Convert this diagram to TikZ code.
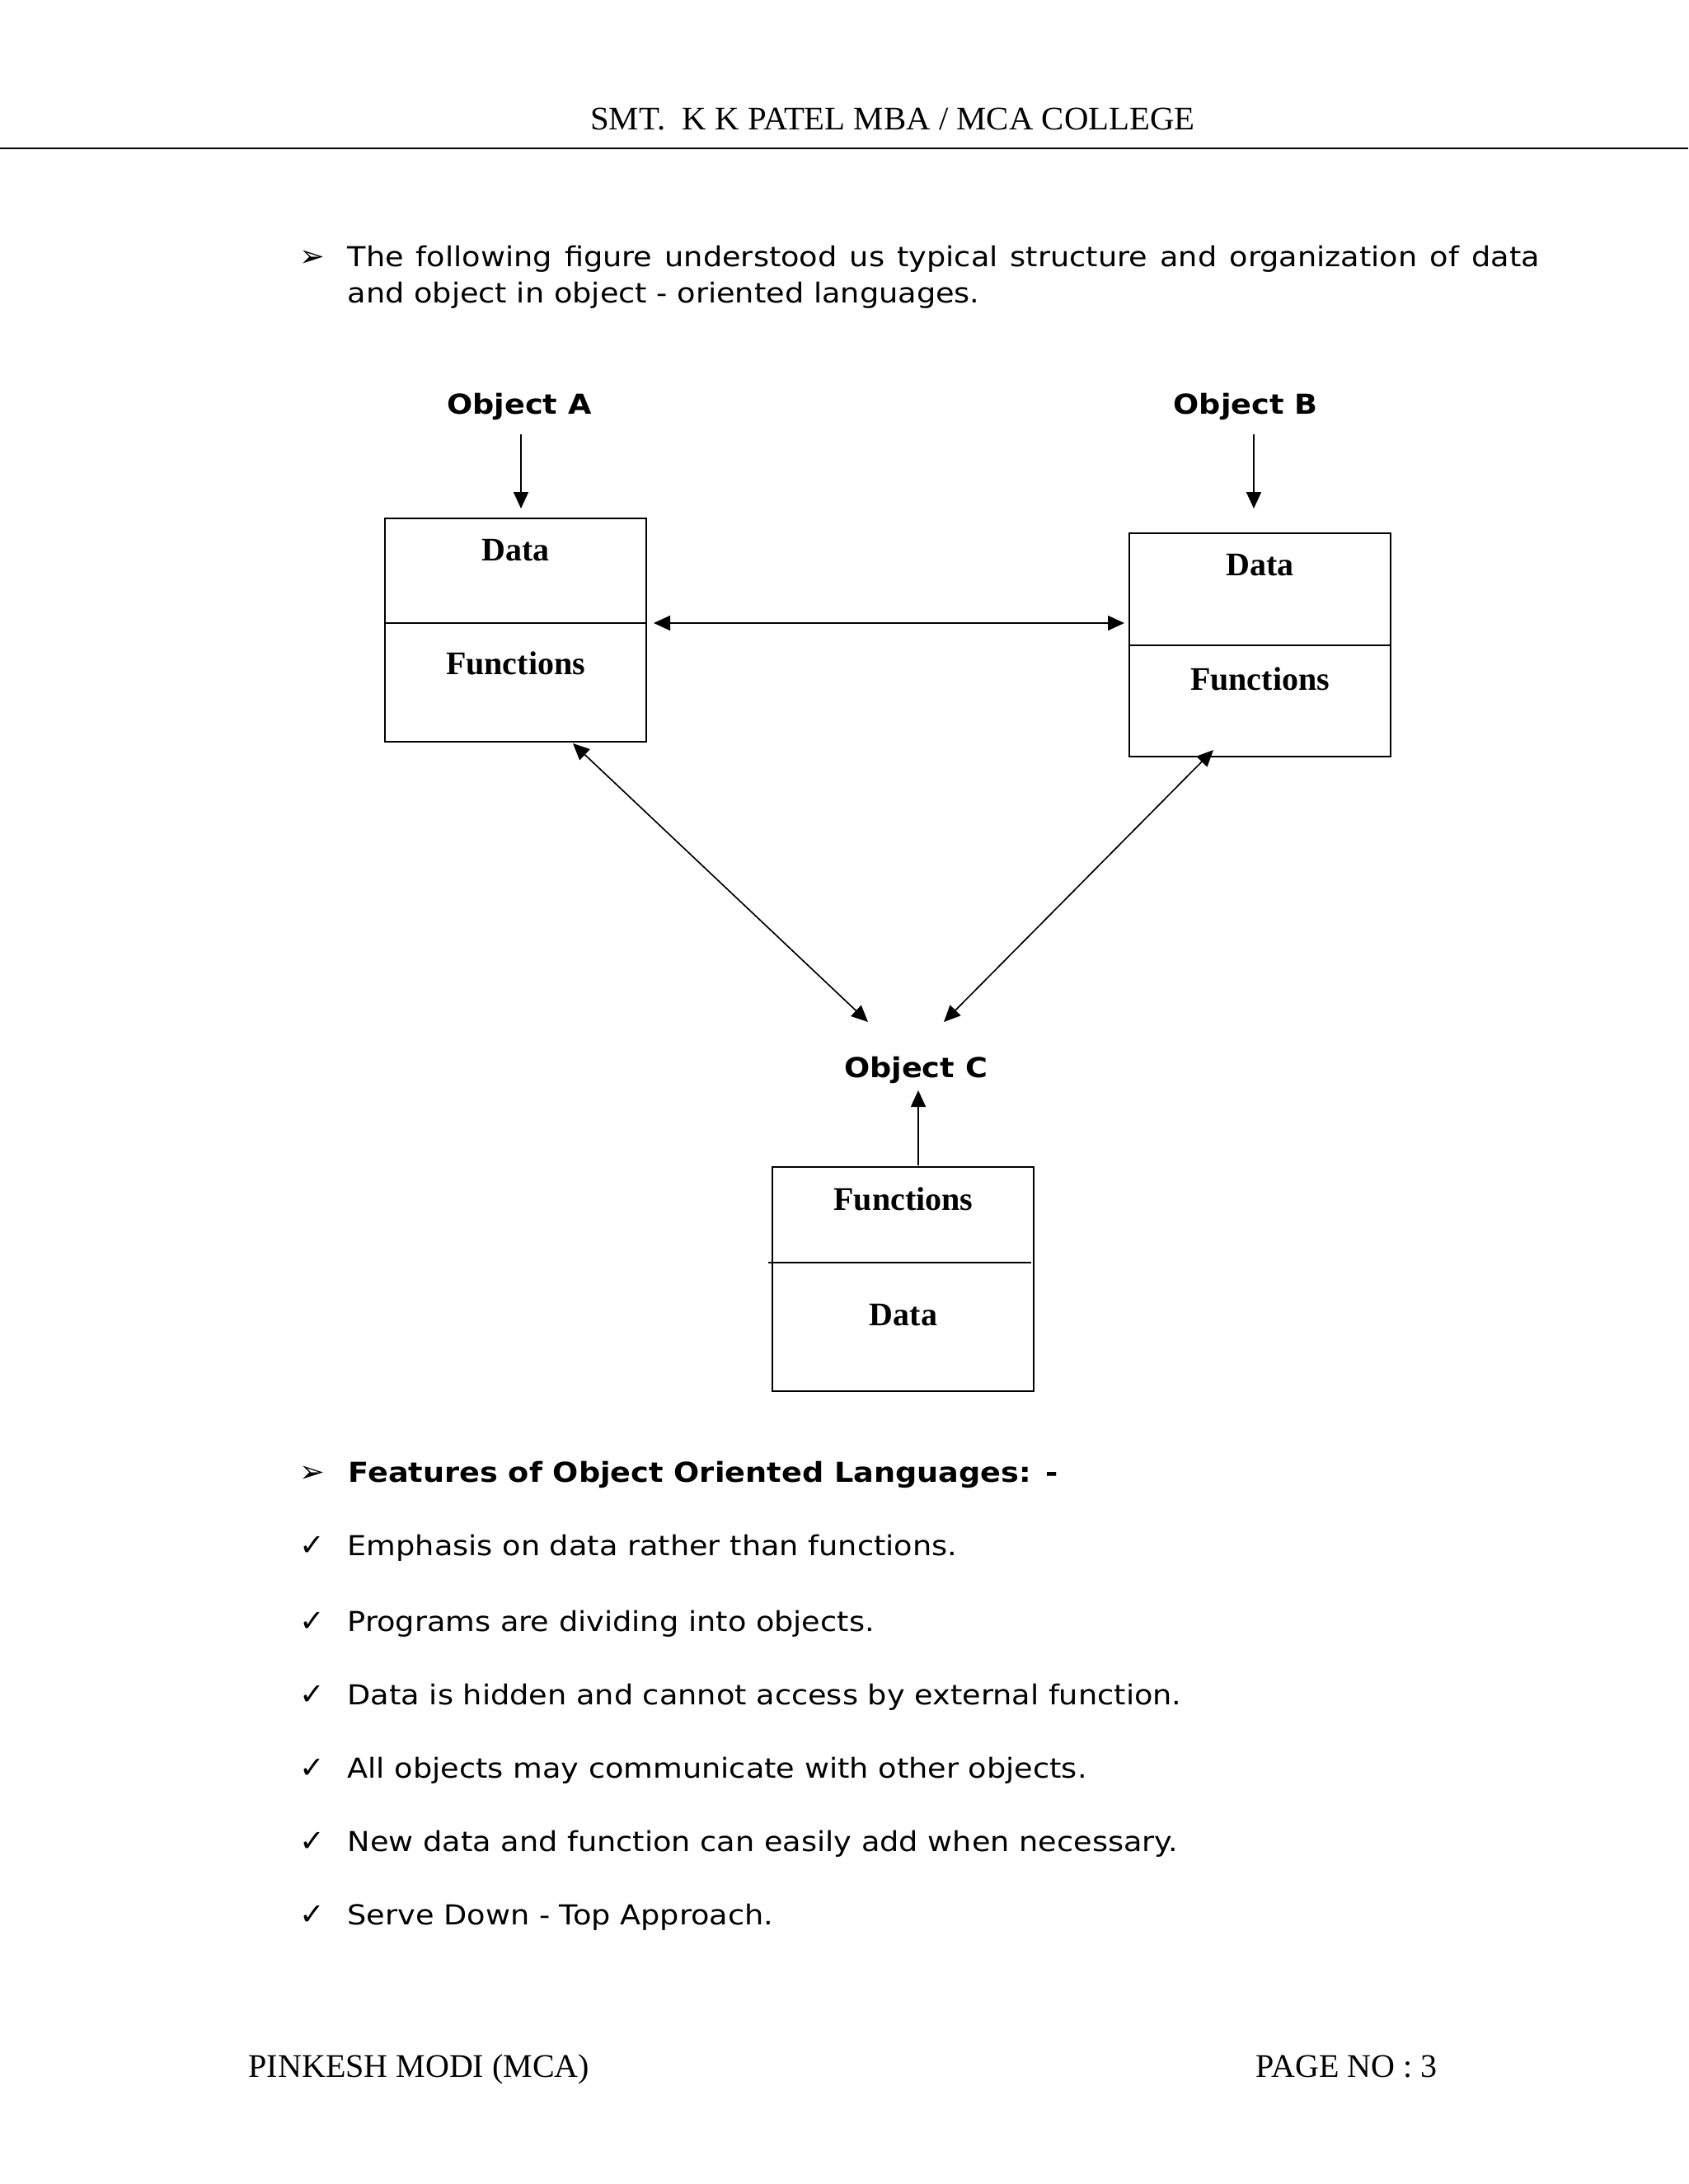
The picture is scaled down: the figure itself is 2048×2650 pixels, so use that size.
\documentclass[tikz,border=0pt]{standalone}
\usepackage{fontspec}
\setmainfont{Liberation Serif}
\newfontfamily\vfont[FakeStretch=1.1]{DejaVu Sans}
\newfontfamily\symfont{DejaVu Sans}
\newfontfamily\hdrfont[FakeStretch=1.02]{Liberation Serif}
\usetikzlibrary{arrows.meta}
\def\u{0.29995pt}
\newlength\pxu
\setlength\pxu{0.29995pt}
\begin{document}
\begin{tikzpicture}[x=0.29995pt,y=-0.29995pt,
  box/.style={draw,line width=0.6pt,minimum width=317*\u,inner sep=0},
  conn/.style={line width=0.5pt,-{Triangle[length=6pt,width=5.4pt]}},
  dconn/.style={line width=0.5pt,{Triangle[length=6pt,width=5.4pt]}-{Triangle[length=6pt,width=5.4pt]}},
  boxtxt/.style={font=\bfseries\fontsize{12}{14}\selectfont,anchor=base,inner sep=0},
  objlbl/.style={font=\vfont\bfseries\fontsize{10}{12}\selectfont,anchor=base,inner sep=0},
  body/.style={font=\vfont\fontsize{10}{12}\selectfont,anchor=base west,inner sep=0},
  bodyb/.style={font=\vfont\bfseries\fontsize{10}{12}\selectfont,anchor=base west,inner sep=0},
  sym/.style={font=\symfont\fontsize{11}{13}\selectfont,anchor=base west,inner sep=0},
  serif/.style={font=\fontsize{12}{14}\selectfont,anchor=base,inner sep=0},
  ]
\useasboundingbox (0,0) rectangle (2048,2650);
\fill[white] (0,0) rectangle (2048,2650);
% header
\node[serif,font=\hdrfont\fontsize{12}{14}\selectfont] (hdr) at (1083,157) {SMT.\ \ K K PATEL MBA / MCA COLLEGE};
\coordinate (hl) at (0,180);
\coordinate (hr) at (2048,180);
\draw[line width=0.8pt] (hl) -- (hr);
% first bullet
\node[sym] (b1) at (363,323) {➢};
\node[body] (t1) at (421,323) {\makebox[1446\pxu][s]{The following figure understood us typical structure and organization of data}};
\node[body] (t2) at (421,367) {and object in object - oriented languages.};
% objects labels
\node[objlbl] (objA) at (630,502) {Object A};
\node[objlbl] (objB) at (1511,502) {Object B};
\node[objlbl] (objC) at (1111,1307) {Object C};
% boxes
\node[box,minimum height=271*\u] (boxA) at (625.5,764.5) {};
\node[box,minimum height=271*\u] (boxB) at (1528.5,782.5) {};
\node[box,minimum height=272*\u] (boxC) at (1095.5,1552) {};
\coordinate (dAl) at (467,756); \coordinate (dAr) at (784,756);
\coordinate (dBl) at (1370,783); \coordinate (dBr) at (1687,783);
\coordinate (dCl) at (932,1532); \coordinate (dCr) at (1251,1532);
\draw[line width=0.6pt] (dAl) -- (dAr);
\draw[line width=0.6pt] (dBl) -- (dBr);
\draw[line width=0.6pt] (dCl) -- (dCr);
\node[boxtxt] (dataA) at (625.5,680) {Data};
\node[boxtxt] (funA) at (625.5,818) {Functions};
\node[boxtxt] (dataB) at (1528.5,698) {Data};
\node[boxtxt] (funB) at (1528.5,837) {Functions};
\node[boxtxt] (funC) at (1096,1468) {Functions};
\node[boxtxt] (dataC) at (1096,1608) {Data};
% connectors
\coordinate (aA1) at (632,527); \coordinate (aA2) at (632,617);
\coordinate (aB1) at (1521,527); \coordinate (aB2) at (1521,617);
\draw[conn] (aA1) -- (aA2);
\draw[conn] (aB1) -- (aB2);
\coordinate (hA) at (793,756); \coordinate (hB) at (1364,756);
\draw[dconn] (hA) -- (hB);
\coordinate (gA) at (695,902); \coordinate (gAc) at (1053,1240);
\coordinate (gB) at (1472,910); \coordinate (gBc) at (1145,1240);
\draw[dconn] (gA) -- (gAc);
\draw[dconn] (gB) -- (gBc);
\coordinate (uC1) at (1114,1414); \coordinate (uC2) at (1114,1323);
\draw[conn] (uC1) -- (uC2);
% features
\node[sym] (b2) at (363,1798) {➢};
\node[bodyb] (f0) at (422,1798) {Features of Object Oriented Languages: -};
\foreach \y/\t [count=\i] in {1887/{Emphasis on data rather than functions.},
  1979/{Programs are dividing into objects.},
  2068/{Data is hidden and cannot access by external function.},
  2157/{All objects may communicate with other objects.},
  2246/{New data and function can easily add when necessary.},
  2335/{Serve Down - Top Approach.}}{
  \node[sym] (c\i) at (363,\y) {✓};
  \node[body] (f\i) at (421,\y) {\t};
}
% footer
\node[serif,anchor=base west] (ftl) at (301,2520) {PINKESH MODI (MCA)};
\node[serif,anchor=base west] (ftr) at (1523,2520) {PAGE NO : 3};
\end{tikzpicture}
\end{document}
